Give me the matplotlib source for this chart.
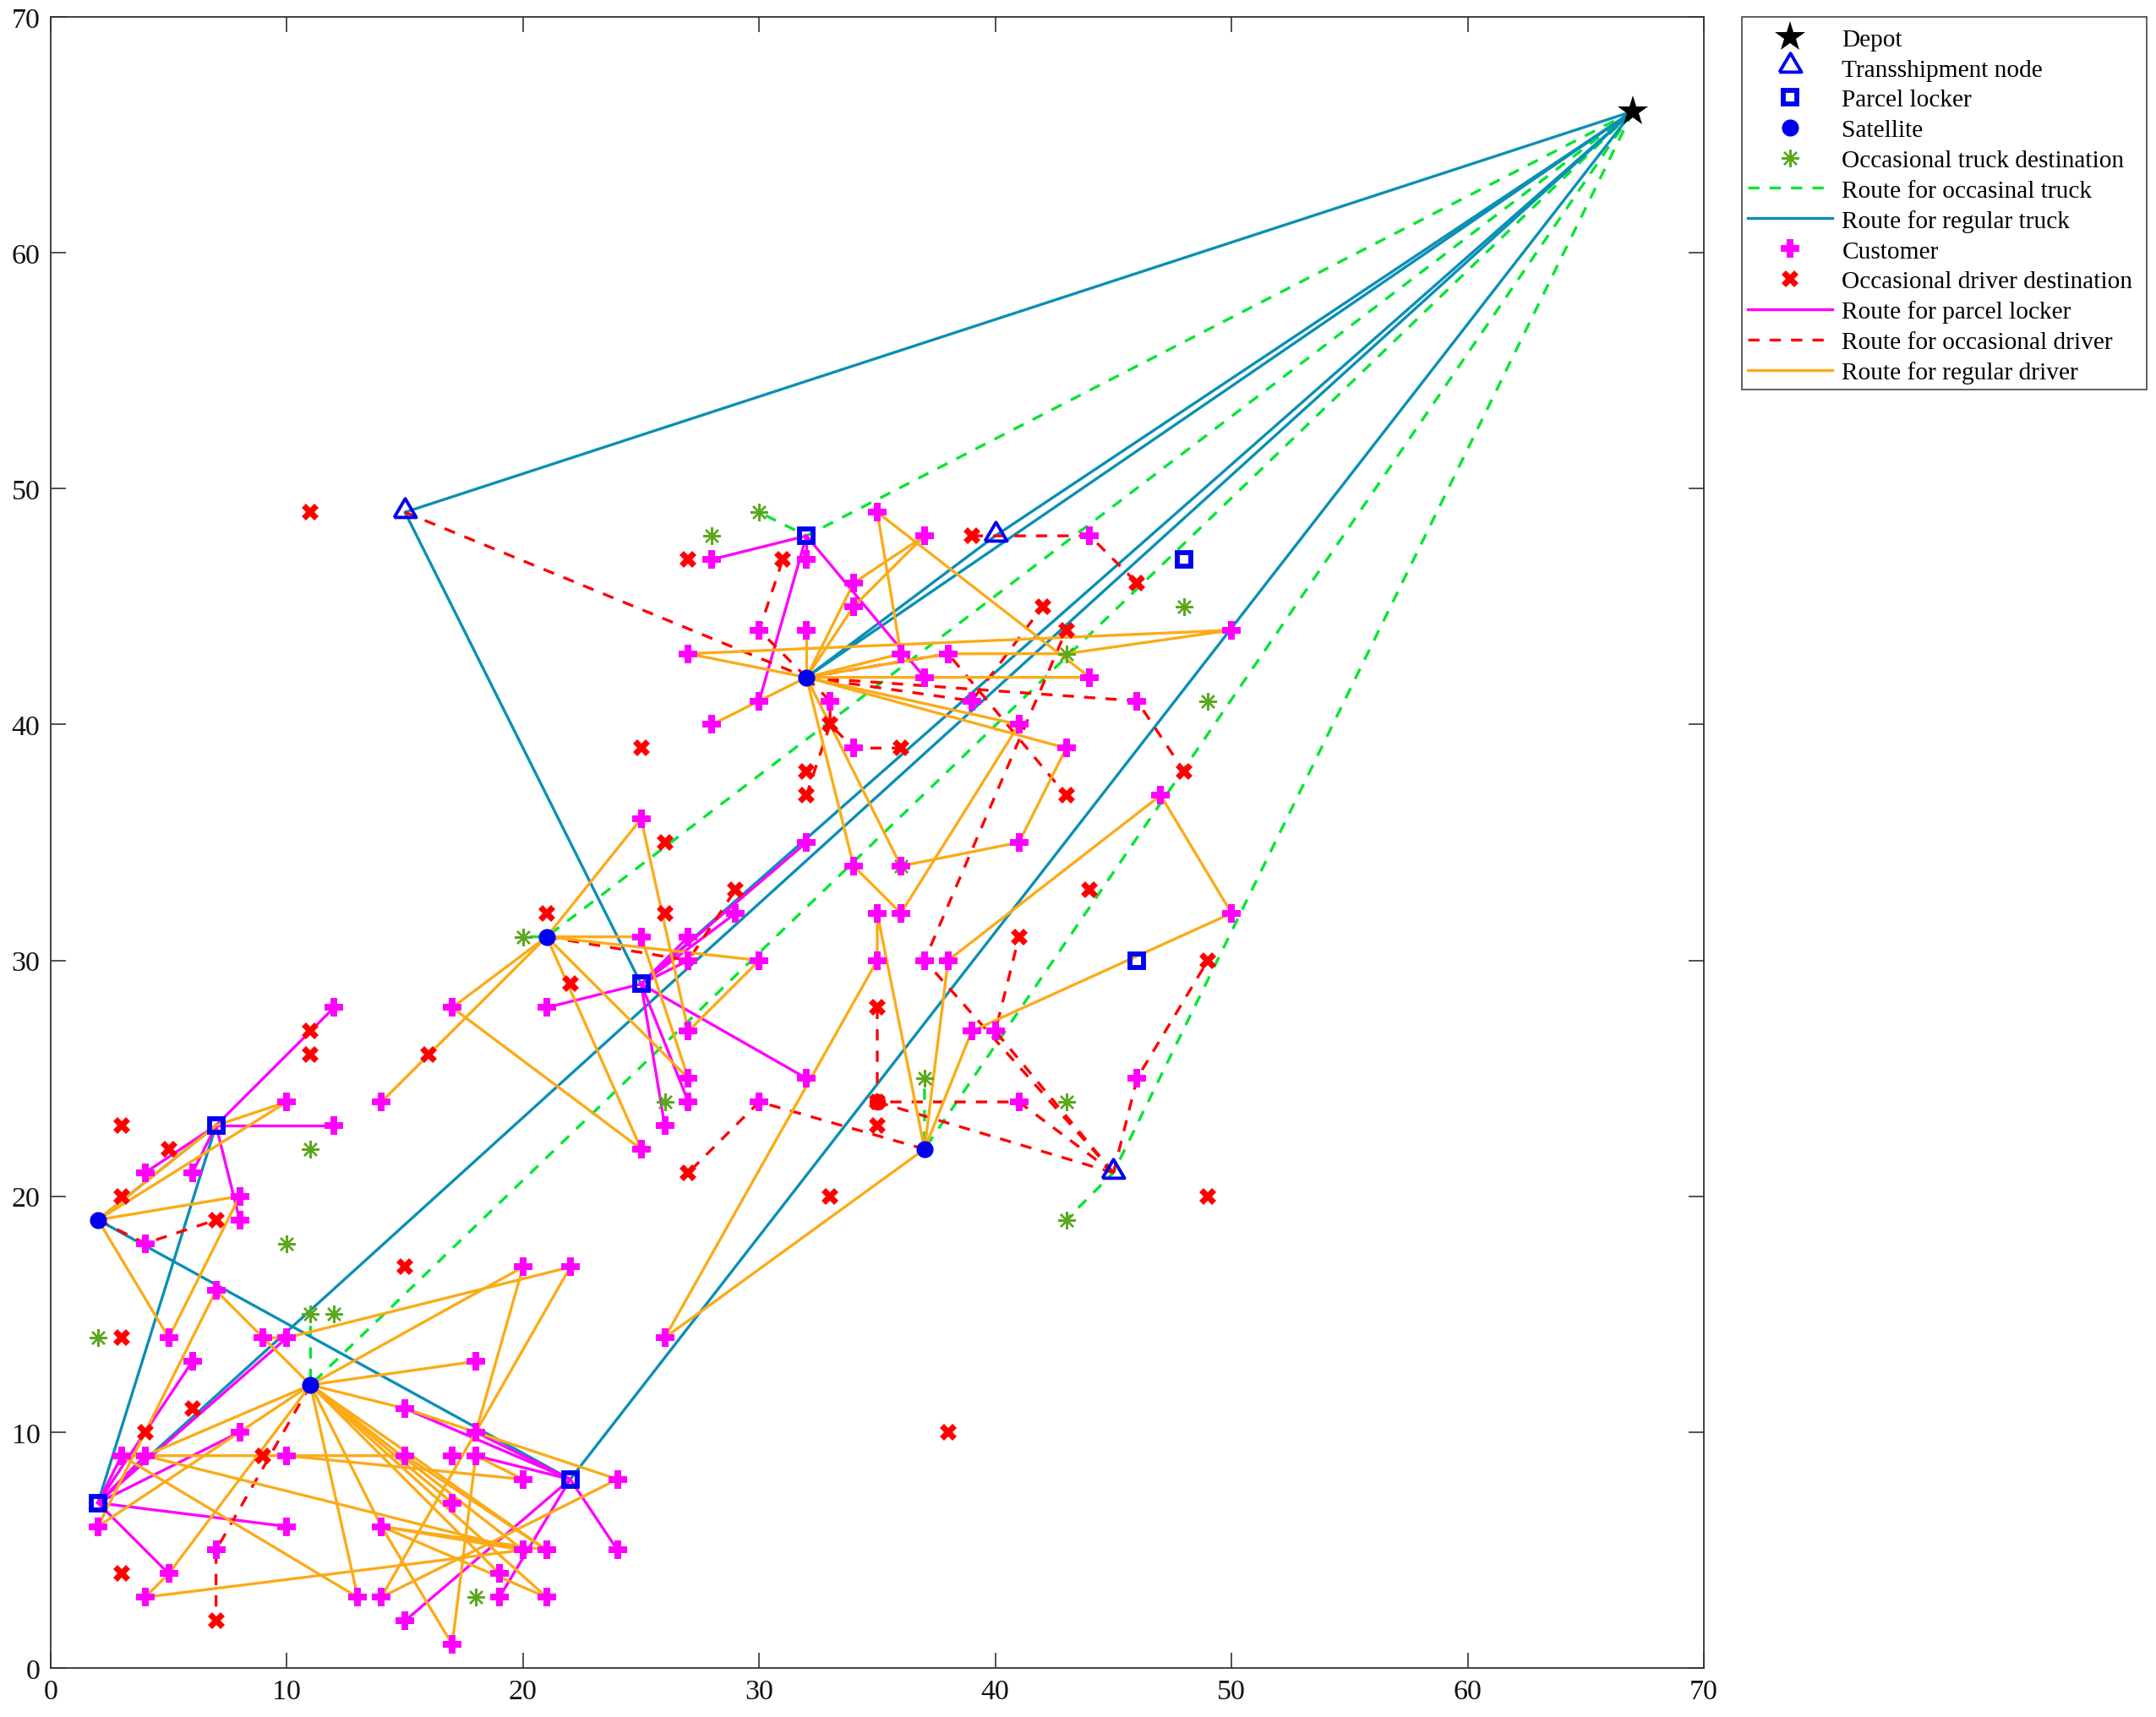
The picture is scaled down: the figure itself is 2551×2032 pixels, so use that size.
import matplotlib
matplotlib.use("Agg")
import matplotlib.pyplot as plt
from matplotlib.lines import Line2D
from matplotlib.patches import Rectangle

plt.rcParams['font.family'] = ['Liberation Serif', 'DejaVu Serif']

depot = [(67, 66)]
transship = [(15, 49), (40, 48), (45, 21)]
lockers = [(2, 7), (22, 8), (7, 23), (25, 29), (32, 48), (48, 47), (46, 30)]
satellites = [(2, 19), (11, 12), (21, 31), (32, 42), (37, 22)]
red_circle = [(35, 24)]
truck_dest = [(10, 18), (2, 14), (11, 15), (12, 15), (18, 3), (11, 22), (20, 31), (37, 25),
              (26, 24), (43, 24), (43, 19), (36, 34), (30, 49), (28, 48), (48, 45), (43, 43), (49, 41)]
customers = [(8, 20), (8, 19), (4, 18), (7, 16), (5, 14), (9, 14), (10, 14), (6, 13), (18, 13), (20, 17),
             (22, 17), (15, 11), (18, 10), (8, 10), (3, 9), (4, 9), (10, 9), (15, 9), (17, 9), (18, 9),
             (20, 8), (24, 8), (17, 7), (2, 6), (10, 6), (14, 6), (7, 5), (20, 5), (21, 5), (24, 5),
             (5, 4), (19, 4), (4, 3), (13, 3), (14, 3), (19, 3), (21, 3), (15, 2), (17, 1),
             (4, 21), (6, 21), (10, 24), (12, 28), (12, 23), (14, 24),
             (17, 28), (21, 28), (25, 36), (25, 31), (27, 31), (29, 32), (27, 30), (30, 30), (27, 27),
             (27, 25), (27, 24), (26, 23), (25, 22), (30, 24), (32, 25), (32, 35),
             (34, 34), (36, 34), (35, 32), (36, 32), (35, 30), (37, 30), (38, 30), (39, 27), (40, 27),
             (41, 24), (41, 35), (46, 25), (50, 32), (47, 37), (26, 14),
             (35, 49), (37, 48), (44, 48), (28, 47), (32, 47), (34, 46), (34, 45), (30, 44), (32, 44),
             (50, 44), (27, 43), (36, 43), (38, 43), (37, 42), (44, 42), (30, 41), (33, 41), (39, 41),
             (46, 41), (28, 40), (41, 40), (34, 39), (43, 39)]
driver_dest = [(3, 20), (7, 19), (3, 14), (15, 17), (6, 11), (4, 10), (9, 9), (3, 4), (7, 2),
               (3, 23), (5, 22), (11, 27), (11, 26), (16, 26), (21, 32), (26, 32), (29, 33), (22, 29),
               (26, 35), (25, 39), (11, 49), (35, 28), (35, 24), (35, 23), (27, 21), (33, 20), (49, 20),
               (38, 10), (41, 31), (49, 30), (44, 33), (32, 38), (32, 37), (43, 37), (48, 38), (36, 39),
               (33, 40), (43, 44), (42, 45), (46, 46), (39, 48), (27, 47), (31, 47)]

occ_truck_routes = [
    [(67, 66), (32, 48), (30, 49)],
    [(67, 66), (21, 31), (20, 31)],
    [(67, 66), (11, 12), (11, 15)],
    [(67, 66), (37, 22), (37, 25)],
    [(67, 66), (45, 21), (43, 19)],
]
reg_truck_routes = [
    [(67, 66), (15, 49), (25, 29), (67, 66)],
    [(67, 66), (40, 48), (32, 42), (67, 66)],
    [(67, 66), (2, 7), (7, 23), (2, 19), (22, 8), (67, 66)],
]
locker_routes = [
    [(2, 7), (6, 13)], [(2, 7), (10, 14)], [(2, 7), (8, 10)], [(2, 7), (10, 6)], [(2, 7), (5, 4)],
    [(2, 7), (3, 9)], [(2, 7), (4, 9)],
    [(22, 8), (15, 11)], [(22, 8), (18, 10)], [(22, 8), (18, 9)], [(22, 8), (24, 5)], [(22, 8), (19, 3)], [(22, 8), (15, 2)],
    [(7, 23), (4, 21)], [(7, 23), (6, 21)], [(7, 23), (8, 19)], [(7, 23), (12, 28)], [(7, 23), (12, 23)],
    [(25, 29), (21, 28)], [(25, 29), (32, 25)], [(25, 29), (26, 23)], [(25, 29), (27, 24)], [(25, 29), (32, 35)],
    [(25, 29), (29, 32)], [(25, 29), (27, 31)], [(25, 29), (27, 30)],
    [(32, 48), (28, 47)], [(32, 48), (30, 41)], [(32, 48), (37, 42)], [(32, 48), (32, 47)],
]
occ_driver_routes = [
    [(15, 49), (32, 42)], [(32, 42), (30, 44), (31, 47)], [(32, 42), (46, 41), (48, 38)],
    [(32, 42), (38, 43), (43, 37)], [(32, 42), (39, 41), (42, 45)],
    [(32, 42), (33, 41), (33, 40), (34, 39), (36, 39)], [(33, 40), (32, 37)],
    [(39, 48), (40, 48), (44, 48), (46, 46)],
    [(45, 21), (46, 25), (49, 30)], [(45, 21), (37, 30), (43, 44)], [(45, 21), (40, 27), (41, 31)],
    [(45, 21), (41, 24), (35, 24), (35, 28)], [(45, 21), (35, 24)],
    [(37, 22), (30, 24), (27, 21)], [(21, 31), (27, 30), (29, 33)],
    [(2, 19), (4, 18), (7, 19)], [(11, 12), (7, 5), (7, 2)],
]
reg_driver_routes = [
    [(37, 22), (39, 27), (50, 32), (47, 37), (38, 30), (37, 22)],
    [(37, 22), (35, 32), (35, 30), (26, 14), (37, 22)],
    [(32, 42), (27, 43), (50, 44), (43, 43), (38, 43), (32, 42)],
    [(32, 42), (44, 42), (35, 49), (36, 43), (32, 42)],
    [(32, 42), (34, 46), (37, 48), (34, 45), (32, 42)],
    [(32, 42), (32, 44)], [(32, 42), (30, 41), (28, 40)],
    [(32, 42), (43, 39), (41, 35), (36, 34), (32, 42)],
    [(32, 42), (41, 40), (36, 32), (34, 34), (32, 42)],
    [(21, 31), (25, 36), (27, 27), (30, 30), (21, 31)],
    [(21, 31), (25, 31), (27, 25), (21, 31)],
    [(21, 31), (17, 28), (25, 22), (21, 31)],
    [(21, 31), (14, 24)],
    [(2, 19), (10, 24), (7, 23), (2, 19)],
    [(2, 19), (8, 20), (5, 14), (2, 19)],
    [(11, 12), (15, 11), (24, 8), (14, 3), (18, 10), (20, 17), (11, 12)],
    [(18, 10), (22, 17), (10, 14), (9, 14), (11, 12)],
    [(9, 14), (7, 16), (2, 6), (8, 10), (11, 12)],
    [(11, 12), (4, 9), (10, 9), (15, 9), (21, 5), (14, 6), (11, 12)],
    [(10, 9), (20, 8), (18, 9), (17, 1), (14, 6), (20, 5), (4, 3), (5, 4), (11, 12)],
    [(4, 9), (20, 5)], [(14, 6), (21, 3), (11, 12)],
    [(4, 9), (3, 9), (13, 3), (11, 12)],
    [(11, 12), (19, 4)], [(11, 12), (21, 5)], [(11, 12), (20, 5)], [(11, 12), (17, 7)], [(11, 12), (18, 13)],
]

xticks = list(range(0, 71, 10))
yticks = list(range(0, 71, 10))

C_GREEN = '#00e632'
C_TRUCK = '#0a8fb5'
C_MAG = '#ff00ff'
C_RED = '#ff0000'
C_OR = '#fbab18'
C_BLUE = '#0000f0'
C_STAR = '#5aa81e'
LW = 2.4
DASH = (4.0, 3.6)
TRI_SHAPE = [(-1, -0.45), (1, -0.45), (0, 1.25), (-1, -0.45)]

fig = plt.figure(figsize=(25.51, 20.33), dpi=100)
ax = fig.add_axes([60 / 2551, 1 - 1975 / 2033, (2016 - 60) / 2551, (1975 - 21) / 2033])


def draw(routes, color, dashed=False, z=2):
    for r in routes:
        xs, ys = zip(*r)
        ln_, = ax.plot(xs, ys, color=color, lw=LW, zorder=z)
        if dashed:
            ln_.set_linestyle((0, DASH))


draw(occ_truck_routes, C_GREEN, True, 2.0)
draw(reg_truck_routes, C_TRUCK, False, 2.1)
draw(locker_routes, C_MAG, False, 2.2)
draw(occ_driver_routes, C_RED, True, 2.3)
draw(reg_driver_routes, C_OR, False, 2.4)


def pts(p, **kw):
    xs, ys = zip(*p)
    ax.plot(xs, ys, ls='none', clip_on=False, **kw)


M = dict(
    star=dict(marker='*', color='k', ms=27, mew=0),
    tri=dict(marker=TRI_SHAPE, mfc='none', mec=C_BLUE, ms=23.5, mew=2.8),
    sq=dict(marker='s', mfc='none', mec=C_BLUE, ms=11.5, mew=4.2),
    sat=dict(marker='o', color=C_BLUE, ms=14.5, mew=0),
    ast=dict(marker=(8, 2, 0), color=C_STAR, ms=15, mew=1.7),
    plus=dict(marker='P', color=C_MAG, ms=15.5, mew=0),
    x=dict(marker='X', color=C_RED, ms=14, mew=0),
)
pts(truck_dest, zorder=3.0, **M['ast'])
pts(red_circle, zorder=3.0, marker='o', color=C_RED, ms=14, mew=0)
pts(driver_dest, zorder=3.1, **M['x'])
pts(customers, zorder=3.2, **M['plus'])
pts(lockers, zorder=3.3, **M['sq'])
pts(transship, zorder=3.3, **M['tri'])
pts(satellites, zorder=3.4, **M['sat'])
pts(depot, zorder=3.5, **M['star'])

ax.set_xlim(0, 70)
ax.set_ylim(0, 70)
ax.set_xticks(xticks)
ax.set_yticks(yticks)
ax.tick_params(direction='in', top=True, right=True, length=13, width=1.2, color='#333333',
               labelsize=24.5, pad=9, labelcolor='#111111')
for s in ax.spines.values():
    s.set_linewidth(1.3)
    s.set_color('#333333')


def ln(color, dashed=False):
    l = Line2D([], [], color=color, lw=LW)
    if dashed:
        l.set_linestyle((0, DASH))
    return l


def mk(key):
    return Line2D([], [], ls='none', **M[key])


handles = [mk('star'), mk('tri'), mk('sq'), mk('sat'), mk('ast'), ln(C_GREEN, True), ln(C_TRUCK),
           mk('plus'), mk('x'), ln(C_MAG), ln(C_RED, True), ln(C_OR)]
labels = ['Depot', 'Transshipment node', 'Parcel locker', 'Satellite', 'Occasional truck destination',
          'Route for occasinal truck', 'Route for regular truck', 'Customer', 'Occasional driver destination',
          'Route for parcel locker', 'Route for occasional driver', 'Route for regular driver']
fig.add_artist(Rectangle((2061 / 2551, 1 - 462 / 2033), (2540 - 2061) / 2551, (462 - 21) / 2033,
                         transform=fig.transFigure, fc='white', ec='#444444', lw=1.2))
fig.legend(handles, labels, loc='upper left', bbox_to_anchor=(2061 / 2551, 1 - 27 / 2033),
           bbox_transform=fig.transFigure, fontsize=21.2, frameon=False, borderpad=0.25,
           labelspacing=0.31, handlelength=3.37, handletextpad=0.4, borderaxespad=0, numpoints=1)

fig.savefig('out.png', dpi=100)
